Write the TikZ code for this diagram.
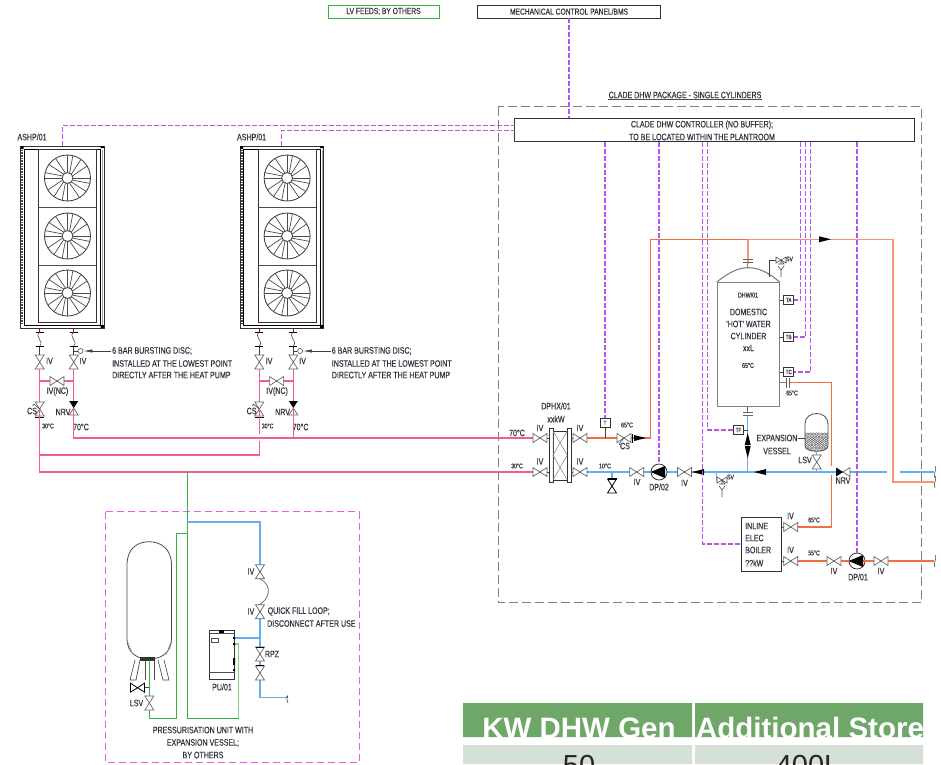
\documentclass[tikz,border=0pt]{standalone}
\usepackage{fontspec}
\setmainfont{Liberation Sans}
\newfontfamily\cadfont[FakeStretch=0.76,FakeBold=0.25]{Liberation Sans}
\usetikzlibrary{calc,arrows.meta}
\definecolor{txtc}{HTML}{33333F}
\definecolor{ctlc}{HTML}{BC52EC}
\definecolor{magc}{HTML}{F456F0}
\definecolor{redp}{HTML}{F45E86}
\definecolor{orgp}{HTML}{F2703F}
\definecolor{salp}{HTML}{F6957A}
\definecolor{blup}{HTML}{66AEF2}
\definecolor{grnp}{HTML}{36B23C}
\definecolor{grayd}{HTML}{808080}
\definecolor{tgreen}{HTML}{6EA768}
\definecolor{tlight}{HTML}{D5E1D6}
\newcommand\cadsize[1]{\cadfont\fontsize{#1}{#1}\selectfont}
\tikzset{
  lbl/.style={font=\cadsize{9.3}, text=txtc, inner sep=0pt, align=center},
  tiny lbl/.style={font=\cadsize{6.8}, text=txtc, inner sep=0pt},
  ctl/.style={draw=ctlc, line width=1.1pt, dash pattern=on 5pt off 2pt},
  red pipe/.style={draw=redp, line width=1.3pt},
  org pipe/.style={draw=orgp, line width=1.2pt},
  sal pipe/.style={draw=salp, line width=1.6pt},
  blue pipe/.style={draw=blup, line width=1.3pt},
  green pipe/.style={draw=grnp, line width=1.2pt},
  blk pipe/.style={draw=black!75, line width=0.6pt},
  sensor/.style={draw=black!80, line width=0.9pt, fill=white, minimum width=10pt, minimum height=9pt, inner sep=0pt, font=\cadsize{6}, text=txtc},
  pump/.style={circle, draw=black!80, line width=0.8pt, fill=white, minimum size=16pt, inner sep=0pt},
  box/.style={draw=black!80, line width=0.9pt, inner sep=0pt},
  pics/vlv/.style={code={
    \draw[draw=black!60, line width=0.7pt, fill=white] (-7,-4.5) -- (7,4.5) -- (7,-4.5) -- (-7,4.5) -- cycle;
  }},
  pics/dvlv/.style={code={
    \draw[draw=black, line width=0.8pt, fill=white] (-7,-4.5) -- (7,4.5) -- (7,-4.5) -- (-7,4.5) -- cycle;
    \draw[draw=black, line width=1.2pt] (7,-4.5) -- (7,4.5);
  }},
  pics/nrv/.style={code={
    \fill[black] (-7,-4.5) -- (-7,4.5) -- (0,0) -- cycle;
    \draw[draw=black!60, line width=0.7pt, fill=white] (0,0) -- (7,4.5) -- (7,-4.5) -- cycle;
  }},
  pics/cs/.style={code={
    \draw[draw=black!60, line width=0.7pt, fill=white] (-7,-4.5) -- (7,4.5) -- (7,-4.5) -- (-7,4.5) -- cycle;
    \draw[draw=black!70, line width=0.6pt] (0,0) -- (-5,6) (-5,6) -- (-3,7);
    \draw[draw=black, line width=1.3pt] (8.5,-4.5) -- (8.5,4.5);
  }},
  pics/flow/.style={code={
    \fill[black] (-6,-3) -- (6,0) -- (-6,3) -- cycle;
  }},
  pics/flex/.style={code={
    \draw[draw=black, line width=0.7pt] (-4,-7) -- (4,-7) (-4,7) -- (4,7);
    \draw[draw=black!70, line width=0.6pt] (0,-7) .. controls (-6,-2) and (5,2) .. (0,7);
  }},
  pics/brk/.style={code={
    \draw[draw=black!70, line width=0.6pt] (0,-6) .. controls (3,-3) and (-3,3) .. (0,6);
  }},
  pics/relief/.style={code={
    \draw[draw=black!70, line width=0.6pt, fill=white] (-5,-3) -- (5,3) -- (5,-3) -- (-5,3) -- cycle;
    \draw[draw=black!70, line width=0.6pt] (0,0) -- (0,4) (-3,4) -- (3,4) -- (0,0) (0,9) -- (0,17) (-3,6) -- (0,10) -- (3,6);
  }},
}
\newcommand\fanwheel[2]{%
  \begin{scope}[shift={(#1,#2)}]
    \draw[draw=black!75, line width=0.85pt] (0,0) circle[radius=23pt];
    \draw[draw=black!75, line width=0.85pt] (0,0) circle[radius=5.5pt];
    \foreach \k in {0,...,15}{
      \pgfmathsetmacro\ang{22.5*\k}
      \pgfmathsetmacro\off{mod(\k,4)==0?0:9}
      \pgfmathsetmacro\angb{\ang+\off}
      \draw[draw=black!70, line width=0.7pt] (\ang:5.5pt) -- (\angb:23pt);
    }
  \end{scope}}
\newcommand\ashpunit[2]{%
  \begin{scope}[xshift=#2pt]
    \node[box, line width=0.9pt, minimum width=83.5pt, minimum height=182pt] (#1) at (62.2,237) {};
    \draw[draw=black, line width=0.9pt] (24,149) rectangle (100.5,325.5);
    \draw[draw=black!80, line width=0.8pt] (38.3,149) rectangle (96.5,322.5);
    \draw[draw=black!70, line width=0.7pt] (38.3,207) -- (96.5,207) (38.3,265) -- (96.5,265);
    \draw[draw=black!70, line width=1.8pt, dash pattern=on 1pt off 0.6pt] (22.3,150) -- (22.3,324);
    \draw[draw=black!35, line width=1.2pt] (102.6,150) -- (102.6,326);
    \fill[black] (20.5,146) rectangle (23.5,149) (100.5,325) rectangle (104,328) (100.5,146) rectangle (104,148);
    \fanwheel{67.5}{178}\fanwheel{67.5}{236}\fanwheel{67.5}{293}
    \coordinate (#1L) at (39.7,339);
    \coordinate (#1R) at (73.7,339);
    \coordinate (#1Lv) at (39.7,362);
    \coordinate (#1Rv) at (73.7,362);
    \coordinate (#1Lx) at (39.7,381);
    \coordinate (#1Rx) at (73.7,381);
    \coordinate (#1Lc) at (39.7,409);
    \coordinate (#1Rn) at (73.7,408);
    \coordinate (#1Lt) at (39.7,346);
    \coordinate (#1Rt) at (73.7,346);
    \coordinate (#1Ra) at (73.7,351);
    \coordinate (#1Xv) at (57,381);
    \coordinate (#1Nt) at (111,351);
    \draw[red pipe] (#1Lx) -- (#1Rx);
    \draw[red pipe] (#1Lv) -- (#1Lc);
    \draw[red pipe] (#1Rv) -- (#1Rn);
    \draw[draw=red!70!black, line width=0.7pt] (39.7,328) -- (39.7,332) (73.7,328) -- (73.7,332);
    \draw[blk pipe] (#1Lt) -- (#1Lv) (#1Rt) -- (#1Rv);
    \pic at (#1L) {flex};
    \pic at (#1R) {flex};
    \pic[rotate=90] at (#1Lv) {vlv};
    \pic[rotate=90] at (#1Rv) {vlv};
    \pic at (#1Xv) {vlv};
    \pic[rotate=-90] at (#1Lc) {cs};
    \pic[rotate=-90] at (#1Rn) {nrv};
    \node[circle, draw=black!70, line width=0.6pt, fill=white, minimum size=5pt, inner sep=0pt] (#1disc) at (80.5,351) {};
    \draw[blk pipe] (#1Ra) -- (#1disc);
    \draw[blk pipe, -{Latex[length=9pt,width=3.2pt]}] (#1Nt) -- (#1disc);
    \node[lbl] (#1la) at (32,137) {ASHP/01};
    \node[lbl] (#1lb) at (49.5,361) {IV};
    \node[lbl] (#1lc) at (83,361) {IV};
    \node[lbl] (#1ld) at (57.5,391.5) {IV(NC)};
    \node[lbl] (#1le) at (32,411) {CS};
    \node[lbl] (#1lf) at (63,412) {NRV};
    \node[tiny lbl] (#1lg) at (48,426) {30°C};
    \node[lbl] (#1lh) at (81,427) {70°C};
    \node[lbl, anchor=west] (#1li) at (112,351) {6 BAR BURSTING DISC;};
    \node[lbl, anchor=west] (#1lj) at (112,363.5) {INSTALLED AT THE LOWEST POINT};
    \node[lbl, anchor=west] (#1lk) at (112,375) {DIRECTLY AFTER THE HEAT PUMP};
  \end{scope}}
\begin{document}
\begin{tikzpicture}[x=1pt,y=-1pt]
\useasboundingbox (0,0) rectangle (941,764);
\fill[white] (0,0) rectangle (941,764);

% frames
\draw[draw=grayd, line width=1pt, dash pattern=on 9pt off 4pt] (498,106.7) rectangle (921.7,602.7);
\draw[draw=magc, line width=1pt, dash pattern=on 7pt off 4pt] (105.3,511.7) rectangle (359,762.3);

% top boxes and controller
\node[box, draw=grnp, minimum width=111pt, minimum height=13pt, font=\cadsize{8.8}, text=txtc] (lv) at (383.5,11.5) {LV FEEDS; BY OTHERS};
\node[box, minimum width=183pt, minimum height=13pt, font=\cadsize{8.8}, text=txtc] (bms) at (569,11.5) {MECHANICAL CONTROL PANEL/BMS};
\node[box, line width=1.1pt, fill=white, minimum width=399.5pt, minimum height=23.7pt] (ctrl) at (714.4,129.9) {};
\node[lbl] (ctrla) at (702,125) {CLADE DHW CONTROLLER (NO BUFFER);};
\node[lbl] (ctrlb) at (702,137) {TO BE LOCATED WITHIN THE PLANTROOM};
\node[lbl] (pkg) at (685,95) {CLADE DHW PACKAGE - SINGLE CYLINDERS};
\draw[draw=black!70, line width=0.5pt] ($(pkg.south west)+(0,1)$) -- ($(pkg.south east)+(0,1)$);

% ASHP units
\ashpunit{ashpA}{0}
\ashpunit{ashpB}{219.6}

% primary heating pipes
\coordinate (hpAs) at (39.7,418);
\coordinate (hpAe) at (39.7,472);
\coordinate (hpAf) at (73.7,438);
\coordinate (hpBs) at (259.3,418);
\coordinate (hpBg) at (259.3,434);
\coordinate (hpBh) at (259.3,441);
\coordinate (hpBj) at (259.3,455);
\coordinate (hpJ) at (39.7,455);
\coordinate (hpBf) at (293.3,408);
\coordinate (hpBk) at (293.3,438);
\coordinate (vIa) at (540,438);
\coordinate (vIb) at (540,472);
\coordinate (vIc) at (580,438);
\coordinate (vId) at (580,472);
\coordinate (ashpAnrv) at (73.7,408);
\draw[red pipe] (ashpAnrv) -- (hpAf) -- (vIa);
\draw[red pipe] (hpBf) -- (hpBk);
\draw[red pipe] (ashpBLc) -- (hpBg);
\draw[red pipe] (hpBh) -- (hpBj) -- (hpJ);
\draw[red pipe] (ashpALc) -- (hpAe) -- (vIb);

% heat exchanger
\node[inner sep=0pt, minimum width=22pt, minimum height=54pt] (dphx) at (560.2,455) {};
\draw[draw=black!80, line width=0.9pt, fill=white] (549.3,428) rectangle (553,482) (567.2,428) rectangle (571,482);
\draw[draw=black!80, line width=0.7pt] (553,431) -- (567.2,431) (553,480) -- (567.2,480);
\draw[draw=black!50, line width=0.5pt] (553,431) -- (567.2,455) -- (553,480) -- (553,431) (567.2,431) -- (553,455) -- (567.2,480);
\node[lbl] (dphxa) at (556,406) {DPHX/01};
\node[lbl] (dphxb) at (556,419) {xxkW};
\node[lbl] at (517,433) {70°C};
\node[tiny lbl] at (517,466) {30°C};
\draw[blk pipe] (vIa) -- (dphx.west |- vIa) (vIb) -- (dphx.west |- vIb) (dphx.east |- vIc) -- (vIc) (dphx.east |- vId) -- (vId);

% DHW flow
\node[sensor] (st) at (605,423) {T};
\coordinate (stb) at (605,438);
\coordinate (cs2) at (624,438);
\coordinate (af1) at (640,438);
\coordinate (hw1) at (650.7,438);
\coordinate (hw2) at (650.7,239.3);
\coordinate (cylT) at (747.7,239.3);
\coordinate (hw3) at (892.7,239.3);
\coordinate (hw4) at (892.7,481.7);
\coordinate (hw5) at (934,481.7);
\coordinate (af2) at (825,239.3);
\draw[org pipe] (vIc) -- (cs2) -- (hw1) -- (hw2) -- (cylT);
\draw[sal pipe] (cylT) -- (hw3) -- (hw4) -- (hw5);
\draw[blk pipe] (st) -- (stb);

% cold feed
\coordinate (b1) at (612,472);
\coordinate (b2) at (612,485);
\coordinate (b3) at (636.7,472);
\coordinate (b4) at (684.5,472);
\coordinate (b5) at (698,472);
\coordinate (b6) at (716.7,472);
\coordinate (b7) at (747.7,472);
\coordinate (b8) at (760,472);
\coordinate (b9) at (816.7,472);
\coordinate (b10) at (843,472);
\coordinate (b11) at (887,472);
\coordinate (b12) at (899.5,472);
\coordinate (b13) at (934,472);
\coordinate (rv1) at (722,480);
\coordinate (rv1a) at (716.7,480);
\draw[blue pipe] (vId) -- (b11);
\draw[blue pipe] (b12) -- (b13);
\draw[blue pipe] (b1) -- (b2);
\draw[blue pipe] (b6) -- (rv1a) -- (rv1);
\node[pump] (dp2) at (659,472) {};
\node[pump] (dp1) at (857,561) {};

% cylinder
\node[draw=grayd, line width=1.1pt, minimum width=62pt, minimum height=124pt, inner sep=0pt] (cyl) at (748.3,344.7) {};
\draw[draw=grayd, line width=1.1pt] (cyl.north west) .. controls (730,271) and (740,267.7) .. (748.3,267.7) .. controls (757,267.7) and (767,271) .. (cyl.north east);
\coordinate (ft) at (747.7,263.5);
\coordinate (ftb) at (747.7,267.7);
\coordinate (fb) at (747.7,416);
\draw[sal pipe] (cylT) -- (ft);
\draw[draw=grayd, line width=0.7pt] (ft) -- (ftb);
\draw[draw=black!60, line width=0.7pt] (743,259.3) -- (752.5,259.3) (743,262.5) -- (752.5,262.5);
\draw[draw=black!60, line width=0.7pt] (743,412.7) -- (752.5,412.7) (743,415.7) -- (752.5,415.7) (747.7,406.7) -- (747.7,412.7);
\draw[blue pipe] (fb) -- (b7);
\node[lbl, font=\cadsize{7}] at (748,295) {DHW/01};
\node[lbl] at (748.5,312) {DOMESTIC};
\node[lbl] at (748.5,324) {'HOT' WATER};
\node[lbl] at (748.5,336) {CYLINDER};
\node[lbl] at (748.5,348) {xxL};
\node[tiny lbl, font=\cadsize{7}] at (748,365.5) {65°C};
\node[sensor] (sa) at (788.7,300) {TA};
\node[sensor] (sb) at (788.7,337) {TB};
\node[sensor] (sc) at (788.7,372) {TC};
\node[sensor] (sf) at (738.5,430) {TF};
\draw[blk pipe] (sa) -- (sa -| cyl.east) (sb) -- (sb -| cyl.east) (sc) -- (sc -| cyl.east);
\coordinate (sft) at (747.7,430);
\draw[blk pipe] (sf) -- (sft);
% cylinder safety valve
\coordinate (svA) at (769,277);
\coordinate (svB) at (769,260);
\coordinate (svC) at (781,260);
\draw[blk pipe] (svA) -- (svB) -- (svC);
\pic at (svC) {relief};
\node[tiny lbl] at (789.5,259) {SV};
\pic at (rv1) {relief};
\node[tiny lbl] at (730.5,477) {SV};

% return to inline boiler
\coordinate (fl1) at (786.5,382.7);
\coordinate (fl2) at (790,382.7);
\coordinate (o1) at (831.7,382.7);
\coordinate (o2) at (831.7,466);
\coordinate (o3) at (831.7,475);
\coordinate (o4) at (831.7,527);
\node[box, line width=1pt, fill=white, minimum width=39.6pt, minimum height=54pt] (boiler) at (761.5,544.3) {};
\coordinate (vBa) at (790.7,527);
\coordinate (vBb) at (790.7,561);
\coordinate (o5) at (934,561);
\draw[draw=grayd, line width=0.7pt] (fl1 -| cyl.east) -- (fl1);
\draw[draw=black!60, line width=0.7pt] (786.5,378) -- (786.5,387.5) (789.3,378) -- (789.3,387.5);
\draw[org pipe] (fl2) -- (o1) -- (o2);
\draw[org pipe] (o3) -- (o4) -- (vBa);
\draw[org pipe] (vBb) -- (o5);
\draw[blk pipe] (boiler.east |- vBa) -- (vBa) (boiler.east |- vBb) -- (vBb);
\node[lbl, anchor=west] at (745,526) {INLINE};
\node[lbl, anchor=west] at (745,538) {ELEC};
\node[lbl, anchor=west] at (745,550) {BOILER};
\node[lbl, anchor=west] at (745,563) {??kW};
\node[tiny lbl] at (792,393) {65°C};
\node[tiny lbl] at (814,520) {65°C};
\node[tiny lbl] at (814,553) {55°C};

% expansion vessel
\begin{scope}
  \path[clip] (805,424) .. controls (805,410) and (828,410) .. (828,424) -- (828,446) .. controls (828,453) and (805,453) .. (805,446) -- cycle;
  \foreach \r in {0,...,6}{
    \foreach \c in {0,...,8}{
      \draw[draw=black!70, line width=0.35pt] ({805+2.8*\c+mod(\r,2)*1.4},{434+2.8*\r}) circle[radius=1.3pt];
    }
  }
\end{scope}
\draw[draw=black!70, line width=0.8pt] (805,424) .. controls (805,410) and (828,410) .. (828,424) -- (828,446) .. controls (828,453) and (805,453) .. (805,446) -- cycle;
\coordinate (ev) at (805,438);
\coordinate (eva) at (798,438);
\coordinate (evb) at (816.7,451);
\coordinate (evv) at (816.7,462);
\draw[blk pipe] (eva) -- (ev);
\draw[blue pipe] (evb) -- (b9);
\node[lbl] at (777,438) {EXPANSION};
\node[lbl] at (777,451) {VESSEL};
\node[lbl] at (805,460) {LSV};

% flow arrows and valves on the DHW side
\pic at (vIa) {vlv}; \pic at (vIb) {vlv}; \pic at (vIc) {vlv}; \pic at (vId) {vlv};
\pic at (b3) {vlv}; \pic at (b4) {vlv};
\pic[rotate=90] at (612,486) {dvlv};
\pic at (cs2) {cs};
\pic at (af1) {flow};
\pic at (af2) {flow};
\pic[rotate=180] at (b5) {flow};
\pic[rotate=180] at (b8) {flow};
\pic[rotate=90] at (747.7,439) {flow};
\pic[rotate=-90] at (747.7,452) {flow};
\pic at (b10) {nrv};
\pic[rotate=90] at (evv) {vlv};
\pic at (vBa) {vlv};
\pic at (vBb) {vlv};
\coordinate (vDa) at (834,561);
\coordinate (vDb) at (881,561);
\pic at (vDa) {vlv};
\pic at (vDb) {vlv};
\pic at (935,472) {brk};
\pic at (935,481.7) {brk};
\pic at (935,561) {brk};
\fill[black] (dp2.west) -- ($(dp2)+(6,-6)$) -- ($(dp2)+(6,6)$) -- cycle;
\fill[black] (dp1.west) -- ($(dp1)+(6,-6)$) -- ($(dp1)+(6,6)$) -- cycle;

\node[lbl] at (540,428) {IV};
\node[lbl] at (540,461.5) {IV};
\node[lbl] at (580,428) {IV};
\node[lbl] at (580,461.5) {IV};
\node[tiny lbl, font=\cadsize{7}] at (627,425) {65°C};
\node[lbl] at (625,446) {CS};
\node[tiny lbl, font=\cadsize{7}] at (605,466) {10°C};
\node[lbl] at (637,482) {IV};
\node[lbl] at (659,487) {DP/02};
\node[lbl] at (684.5,483) {IV};
\node[lbl] at (843,480.5) {NRV};
\node[lbl] at (790.5,516) {IV};
\node[lbl] at (790.5,550) {IV};
\node[lbl] at (834,571) {IV};
\node[lbl] at (858,577) {DP/01};
\node[lbl] at (881,571) {IV};

% control wiring
\coordinate (cA) at (514.7,125.2);
\coordinate (cB) at (514.7,130.3);
\coordinate (cBu) at (281.2,146);
\coordinate (cF) at (702.2,544);
\coordinate (cG) at (707.2,430);
\draw[ctl] (bms.south) -- (bms.south |- ctrl.north);
\draw[ctl] (ashpA.north) |- (cA);
\draw[ctl] (cBu) |- (cB);
\draw[ctl] (st.north |- ctrl.south) -- (st.north);
\draw[ctl] (dp2.north |- ctrl.south) -- (dp2.north);
\draw[ctl] (cF |- ctrl.south) -- (cF) -- (boiler.west |- cF);
\draw[ctl] (cG |- ctrl.south) -- (cG) -- (sf.west);
\draw[ctl] (800.2,141.7) |- (sa.east);
\draw[ctl] (805.7,141.7) |- (sb.east);
\draw[ctl] (810.7,141.7) |- (sc.east);
\draw[ctl] (dp1.north |- ctrl.south) -- (dp1.north);

% pressurisation set
\coordinate (gA) at (187.3,472);
\coordinate (gB) at (187.3,718.3);
\coordinate (gC) at (238.7,718.3);
\coordinate (gD) at (238.7,644);
\coordinate (gJ) at (187.3,533.3);
\coordinate (gK) at (176.7,533.3);
\coordinate (gL) at (176.7,718.3);
\coordinate (gM) at (149.3,718.3);
\coordinate (gN) at (149.3,660);
\coordinate (bJ) at (187.3,522);
\coordinate (bK) at (260,522);
\coordinate (bL) at (260,697.7);
\coordinate (bM) at (286,697.7);
\coordinate (bN) at (260,638);
\coordinate (vP) at (149.3,703);
\node[box, fill=white, line width=0.9pt, minimum width=24.7pt, minimum height=49.7pt] (pu) at (221.7,654.9) {};
\draw[green pipe] (gA) -- (gB) -- (gC);
\draw[draw=grnp!60!white, line width=1.3pt] (gC) -- (gD) -- (gD -| pu.east);
\draw[green pipe] (gJ) -- (gK) -- (gL) -- (gM) -- (gN);
\draw[blue pipe] (bJ) -- (bK) -- (bL) -- (bM);
\draw[blue pipe] (bN) -- (bN -| pu.east);
\draw[draw=black!70, line width=0.6pt] (bM) .. controls (290,693) and (285,699) .. (288,703);

% vessel
\draw[draw=black!70, line width=0.8pt, fill=white] (127,565) .. controls (127,548) and (138,541.7) .. (149,541.7) .. controls (160,541.7) and (171.5,548) .. (171.5,565) -- (171.5,638) .. controls (171.5,654) and (160,659) .. (149,659) .. controls (138,659) and (127,654) .. (127,638) -- cycle;
\draw[draw=black!70, line width=0.7pt] (135,660) -- (130,680) -- (136,680) -- (140,660) (158,660) -- (163,680) -- (169,680) -- (164,660);
\draw[draw=black!70, line width=0.7pt] (145,660) -- (145,680) (154,660) -- (154,680);
\draw[draw=black!40, line width=0.5pt] (127,640) -- (133,655) (171.5,640) -- (166,655);
\fill[black!80] (140,657) rectangle (155,660.5);
\draw[green pipe] (gM) -- (gN);
\coordinate (vPa) at (149.3,687.7);
\coordinate (vPb) at (144,687.7);
\draw[blk pipe] (vPa) -- (vPb);
\pic[rotate=180] at (137.5,687.7) {dvlv};
\pic[rotate=90] at (vP) {vlv};
\node[lbl] (plsv) at (136.5,703) {LSV};

% PU details
\draw[draw=black!70, line width=0.5pt] (209.3,633) -- (234,633) (209.3,672) -- (234,672);
\fill[black] (219,630) rectangle (224,633);
\draw[draw=black!70, line width=0.5pt] (211,638) rectangle (218,642);
\fill[black] (233,637) rectangle (235,639) (233,643) rectangle (235,645) (233,658) rectangle (235,665) (233,669) rectangle (235,671);
\node[lbl] (pul) at (222,687) {PU/01};

% fill loop valves
\coordinate (vQa) at (260,571.7);
\coordinate (vQb) at (260,611.7);
\coordinate (vQc) at (260,654);
\coordinate (vQd) at (260,673);
\draw[draw=white, line width=2pt] (260,579) -- (260,604);
\draw[draw=black!60, line width=0.7pt] (260,579) .. controls (274,586) and (268,600) .. (260,604);
\pic[rotate=90] at (vQa) {vlv};
\pic[rotate=90] at (vQb) {vlv};
\pic[rotate=90] at (vQc) {vlv};
\pic[rotate=90] at (vQd) {vlv};
\draw[draw=black, line width=0.8pt] (256,647) -- (264,647) (256,665) -- (264,665);
\node[lbl] at (251,571.5) {IV};
\node[lbl] at (251,611.5) {IV};
\node[lbl] at (272,654) {RPZ};
\node[lbl, anchor=west] at (267.5,611.5) {QUICK FILL LOOP;};
\node[lbl, anchor=west] at (267,623.5) {DISCONNECT AFTER USE};
\node[lbl] at (203,730) {PRESSURISATION UNIT WITH};
\node[lbl] at (203,743) {EXPANSION VESSEL;};
\node[lbl] at (203,755) {BY OTHERS};

% table
\fill[tgreen] (463,703) rectangle (692,737) (695,703) rectangle (923,737);
\fill[tlight] (463,745) rectangle (692,764) (695,745) rectangle (923,764);
\begin{scope}
  \clip (463,703) rectangle (923,737);
  \node[anchor=base, text=white, inner sep=0pt, font=\fontsize{29.5}{30}\selectfont\bfseries] (tha) at (579,738) {KW DHW Gen};
  \node[anchor=base, text=white, inner sep=0pt, font=\fontsize{29.5}{30}\selectfont\bfseries] (thb) at (810,738) {Additional Store};
\end{scope}
\begin{scope}
  \clip (463,745) rectangle (923,764);
  \node[anchor=base, text=black!85, inner sep=0pt, font=\fontsize{29}{30}\selectfont] (tca) at (579,775) {50};
  \node[anchor=base, text=black!85, inner sep=0pt, font=\fontsize{29}{30}\selectfont] (tcb) at (808,775) {400L};
\end{scope}
\end{tikzpicture}
\end{document}
